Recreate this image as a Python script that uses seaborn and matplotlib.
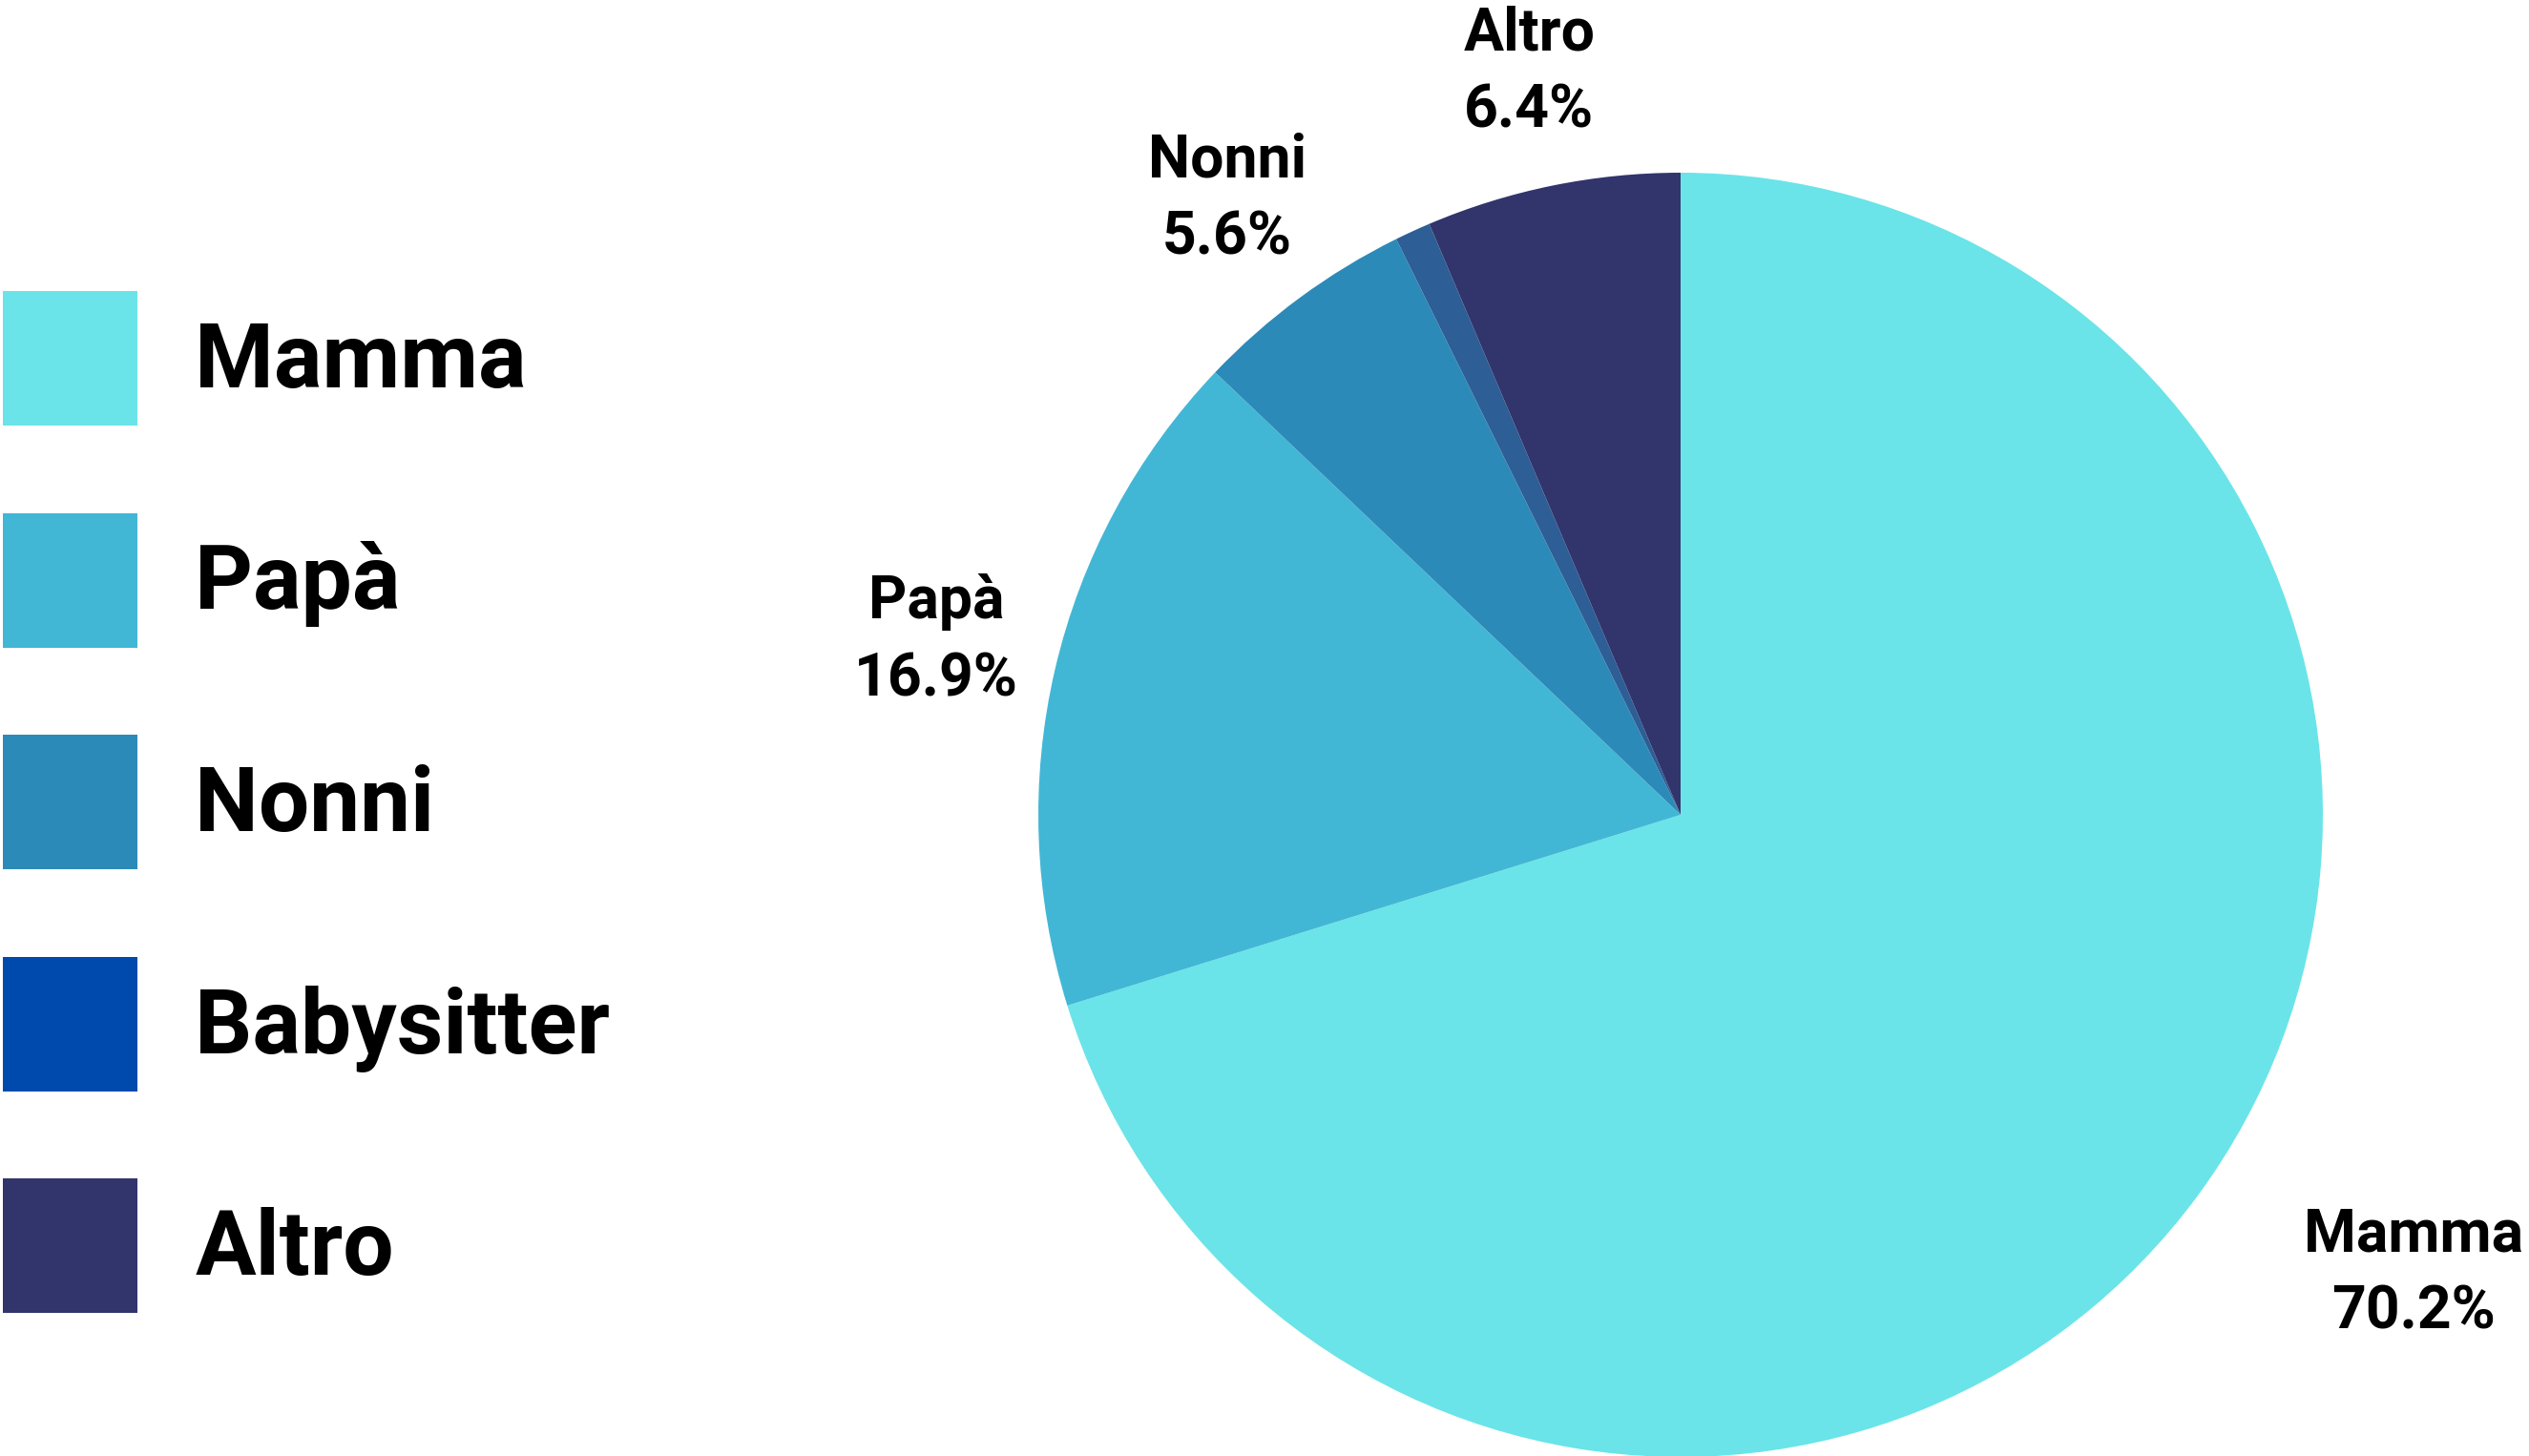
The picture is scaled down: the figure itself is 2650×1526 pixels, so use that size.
import numpy as np
import matplotlib
matplotlib.use("Agg")
import matplotlib.pyplot as plt
from matplotlib.patches import Patch
import seaborn as sns

# data
categories = ["Mamma", "Papà", "Nonni", "Babysitter", "Altro"]
shares = [70.2, 16.9, 5.6, 0.9, 6.4]
show_label = [True, True, True, False, True]
slice_colors = ["#6ae4e8", "#42b7d5", "#2c8ab8", "#2d5e96", "#31356c"]
legend_colors = ["#6ae4e8", "#42b7d5", "#2c8ab8", "#004aad", "#31356c"]

sns.set_theme(style="white")
plt.rcParams["font.family"] = ["Roboto", "DejaVu Sans"]
plt.rcParams["text.color"] = "black"

W, H = 2650, 1526
fig = plt.figure(figsize=(W / 100, H / 100), dpi=100)
fig.patch.set_facecolor("white")

# pie axes: centre (1761, 854) px, radius 673 px
cx, cy, r = 1761, 854, 673
ax = fig.add_axes([(cx - r) / W, 1 - (cy + r) / H, 2 * r / W, 2 * r / H])
wedges, _ = ax.pie(shares, colors=slice_colors, startangle=90, counterclock=False,
                   wedgeprops=dict(linewidth=0))
ax.set_xlim(-1, 1)
ax.set_ylim(-1, 1)
ax.axis("off")

# labels placed radially; Mamma sits a bit further out
label_dist = {"Mamma": 1.346, "Altro": 1.18}
label_rot = {"Mamma": 4.3}
for w, name, val, show in zip(wedges, categories, shares, show_label):
    if not show:
        continue
    ang = np.deg2rad((w.theta1 + w.theta2) / 2 + label_rot.get(name, 0))
    d = label_dist.get(name, 1.19)
    ax.text(d * np.cos(ang), d * np.sin(ang), f"{name}\n{val:.1f}%",
            ha="center", va="center", fontsize=45, fontweight="bold",
            linespacing=1.45, color="black", clip_on=False)

handles = [Patch(facecolor=c, edgecolor="none") for c in legend_colors]
fig.legend(handles, categories, loc="upper left",
           bbox_to_anchor=(3 / W, 1 - 305 / H), frameon=False,
           prop=dict(size=68, weight="bold"), labelcolor="black",
           handlelength=1.49, handleheight=1.92,
           handletextpad=0.64, labelspacing=0.97, borderpad=0, borderaxespad=0)

fig.savefig("out.png", dpi=100, facecolor="white")
